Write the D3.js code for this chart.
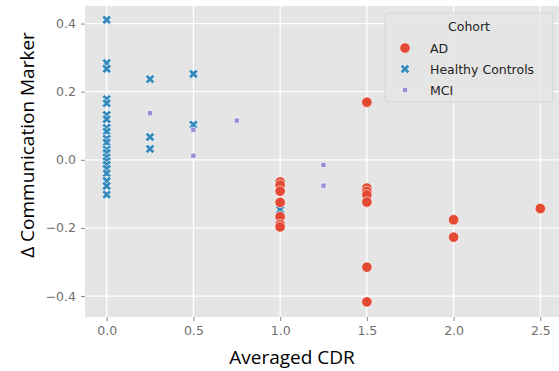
<!DOCTYPE html>
<html>
<head>
<meta charset="utf-8">
<script src="https://cdn.jsdelivr.net/npm/d3@7"></script>
<style>
  body { margin: 0; background: #fff; }
  svg { display: block; }
</style>
</head>
<body>
<div id="chart"></div>
<script>
// cohorts and their points (Averaged CDR, delta communication marker)
const cohorts = ['AD', 'Healthy Controls', 'MCI'];
const colors = ['#E24A33', '#348ABD', '#988ED5'];

const hcCdr = [0, 0, 0, 0, 0, 0, 0, 0, 0, 0, 0, 0, 0, 0, 0, 0, 0, 0, 0, 0, 0,
  0.25, 0.25, 0.25, 0.5, 0.5, 1.0];
const hcDelta = [0.411, 0.284, 0.267, 0.178, 0.166, 0.132, 0.119, 0.094, 0.083, 0.062, 0.051,
  0.030, 0.020, 0.007, -0.004, -0.015, -0.026, -0.040, -0.062, -0.077, -0.102,
  0.237, 0.067, 0.032, 0.252, 0.103, -0.147];

const mciCdr = [0.25, 0.5, 0.5, 0.75, 1.25, 1.25];
const mciDelta = [0.137, 0.088, 0.012, 0.115, -0.015, -0.076];

const adCdr = [1, 1, 1, 1, 1, 1, 1, 1.5, 1.5, 1.5, 1.5, 1.5, 1.5, 1.5, 2, 2, 2.5];
const adDelta = [-0.065, -0.074, -0.092, -0.125, -0.167, -0.19, -0.197,
  0.169, -0.083, -0.093, -0.103, -0.124, -0.315, -0.417, -0.176, -0.227, -0.143];

const xTicks = [0, 0.5, 1.0, 1.5, 2.0, 2.5];
const yTicks = [-0.4, -0.2, 0.0, 0.2, 0.4];

const width = 559, height = 371;
const panel = { left: 85, right: 562, top: 6, bottom: 317 };

const svg = d3.select('#chart').append('svg')
  .attr('width', width)
  .attr('height', height);

const x = d3.scaleLinear().domain([-0.125, 2.625]).range([panel.left, panel.right]);
const y = d3.scaleLinear().domain([-0.4615, 0.4515]).range([panel.bottom, panel.top]);

svg.append('defs').append('clipPath').attr('id', 'clip')
  .append('rect')
  .attr('x', panel.left).attr('y', panel.top)
  .attr('width', panel.right - panel.left).attr('height', panel.bottom - panel.top);

// panel background
svg.append('rect')
  .attr('x', panel.left).attr('y', panel.top)
  .attr('width', panel.right - panel.left).attr('height', panel.bottom - panel.top)
  .attr('fill', '#e5e5e5');

// grid lines
const grid = svg.append('g').attr('clip-path', 'url(#clip)');
grid.selectAll('.vx').data(xTicks).join('line')
  .attr('x1', d => x(d)).attr('x2', d => x(d))
  .attr('y1', panel.top).attr('y2', panel.bottom)
  .attr('stroke', '#fff').attr('stroke-width', 1.3);
grid.selectAll('.hy').data(yTicks).join('line')
  .attr('x1', panel.left).attr('x2', panel.right)
  .attr('y1', d => y(d)).attr('y2', d => y(d))
  .attr('stroke', '#fff').attr('stroke-width', 1.3);

// axes
const xAxis = svg.append('g')
  .attr('transform', 'translate(0,' + panel.bottom + ')')
  .call(d3.axisBottom(x).tickValues(xTicks).tickFormat(d3.format('.1f')).tickSize(4).tickPadding(5).tickSizeOuter(0));
const yAxis = svg.append('g')
  .attr('transform', 'translate(' + panel.left + ',0)')
  .call(d3.axisLeft(y).tickValues(yTicks).tickFormat(d3.format('.1f')).tickSize(4).tickPadding(5).tickSizeOuter(0));

[xAxis, yAxis].forEach(a => {
  a.select('.domain').remove();
  a.selectAll('.tick line').attr('stroke', '#888');
  a.selectAll('.tick text')
    .attr('fill', '#707070')
    .style('font-family', 'DejaVu Sans, sans-serif')
    .style('font-size', '12.5px');
});

// axis labels
svg.append('text')
  .attr('x', 292).attr('y', 364)
  .attr('text-anchor', 'middle')
  .style('font-family', 'Open Sans, sans-serif')
  .style('font-size', '19px')
  .attr('fill', '#000')
  .text('Averaged CDR');

svg.append('text')
  .attr('transform', 'translate(34,145) rotate(-90)')
  .attr('text-anchor', 'middle')
  .style('font-family', 'Open Sans, sans-serif')
  .style('font-size', '19px')
  .attr('fill', '#000')
  .text('Δ Communication Marker');

// markers
const shapes = [
  d3.symbol().type(d3.symbolCircle).size(85),
  d3.symbol().type(d3.symbolCross).size(55),
  d3.symbol().type(d3.symbolSquare).size(26)
];
const rot = [0, 45, 0];

const series = [
  { idx: 1, cdr: hcCdr, delta: hcDelta },
  { idx: 2, cdr: mciCdr, delta: mciDelta },
  { idx: 0, cdr: adCdr, delta: adDelta }
];

const pts = svg.append('g').attr('clip-path', 'url(#clip)');
series.forEach(s => {
  pts.selectAll(null).data(d3.zip(s.cdr, s.delta)).join('path')
    .attr('d', shapes[s.idx]())
    .attr('transform', d => 'translate(' + x(d[0]) + ',' + y(d[1]) + ') rotate(' + rot[s.idx] + ')')
    .attr('fill', colors[s.idx])
    .attr('stroke', '#fff')
    .attr('stroke-width', 0.6);
});

// legend
const legend = svg.append('g');
legend.append('rect')
  .attr('x', 385).attr('y', 13).attr('width', 168).attr('height', 89).attr('rx', 3)
  .attr('fill', '#e5e5e5').attr('fill-opacity', 0.85)
  .attr('stroke', '#d4d4d4');
legend.append('text')
  .attr('x', 469).attr('y', 31)
  .attr('text-anchor', 'middle')
  .style('font-family', 'DejaVu Sans, sans-serif')
  .style('font-size', '12.5px')
  .attr('fill', '#222')
  .text('Cohort');
cohorts.forEach((c, i) => {
  const cy = 48 + i * 21;
  legend.append('path')
    .attr('d', shapes[i]())
    .attr('transform', 'translate(405,' + cy + ') rotate(' + rot[i] + ')')
    .attr('fill', colors[i])
    .attr('stroke', '#fff')
    .attr('stroke-width', 0.6);
  legend.append('text')
    .attr('x', 430).attr('y', cy + 4.5)
    .style('font-family', 'DejaVu Sans, sans-serif')
    .style('font-size', '12.5px')
    .attr('fill', '#222')
    .text(c);
});
</script>
</body>
</html>
